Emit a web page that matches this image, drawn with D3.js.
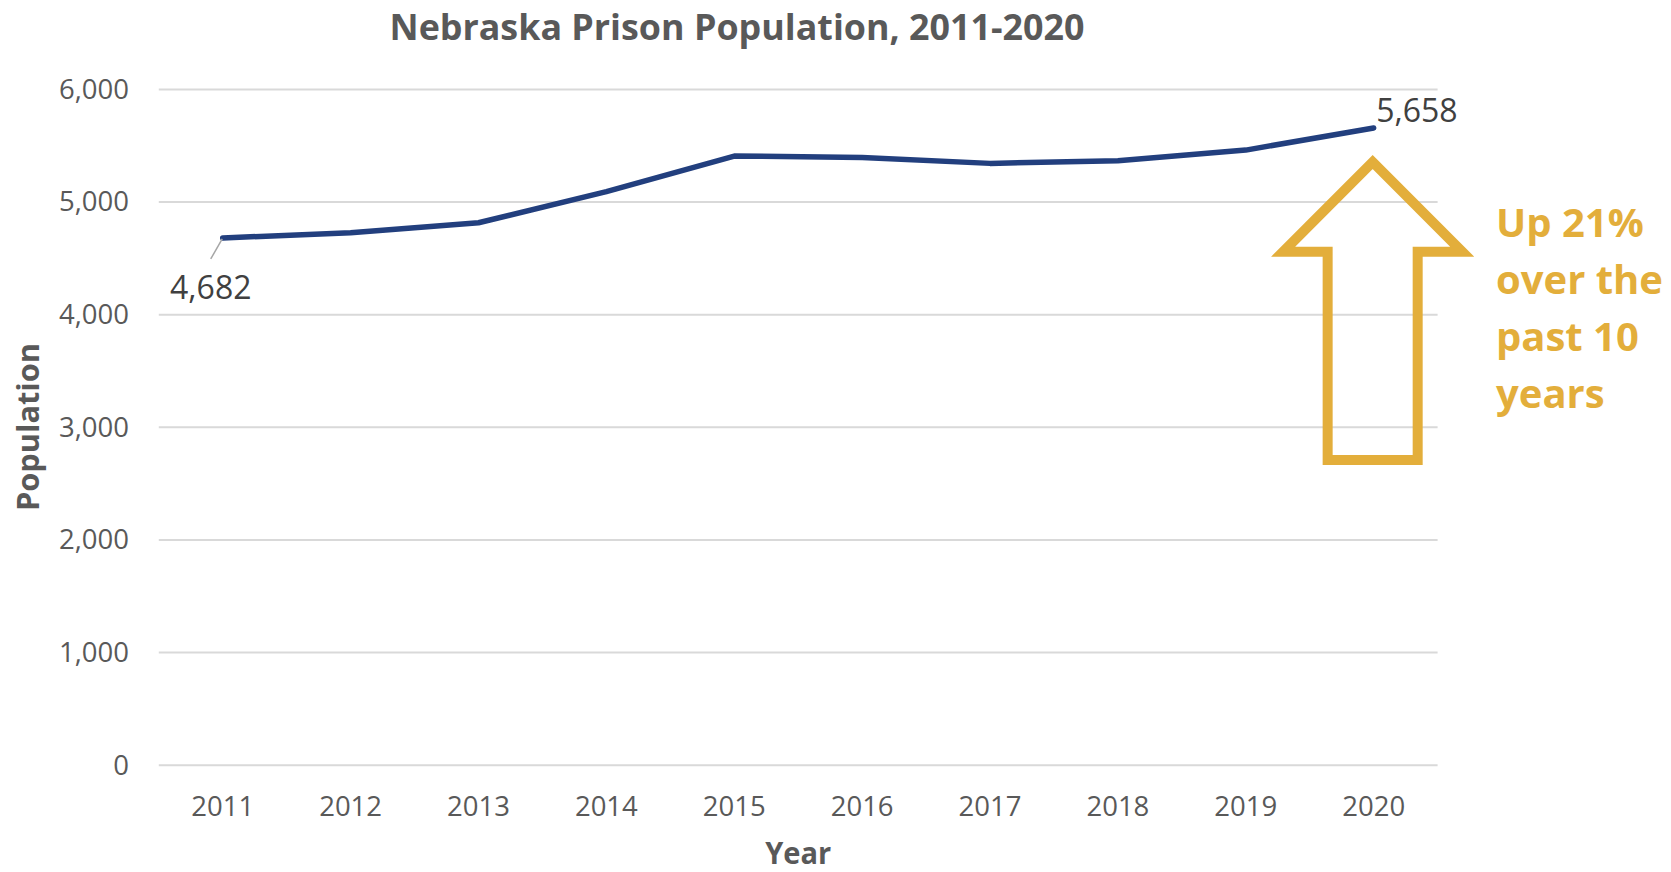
<!DOCTYPE html>
<html>
<head>
<meta charset="utf-8">
<script src="https://cdn.jsdelivr.net/npm/d3@7"></script>
<style>
  html, body { margin: 0; padding: 0; background: #ffffff; }
  svg { display: block; }
  text { font-family: "Open Sans", "Noto Sans", sans-serif; }
</style>
</head>
<body>
<svg id="chart" width="1671" height="872"></svg>
<script>
// Nebraska prison population by year
const years = ["2011", "2012", "2013", "2014", "2015", "2016", "2017", "2018", "2019", "2020"];
const population = [4682, 4728, 4817, 5093, 5409, 5397, 5344, 5368, 5462, 5658];
const yTicks = [0, 1000, 2000, 3000, 4000, 5000, 6000];
const calloutLines = ["Up 21%", "over the", "past 10", "years"];

const W = 1671, H = 872;
const margin = { top: 89.5, right: W - 1437.6, bottom: H - 765.2, left: 158.8 };

const svg = d3.select("#chart");
const gray = "#595959";
const gold = "#E3AE3B";
const navy = "#223F7E";

const x = d3.scaleBand().domain(years).range([margin.left, W - margin.right]);
const y = d3.scaleLinear().domain([0, 6000]).range([H - margin.bottom, margin.top]);
const cx = d => x(d) + x.bandwidth() / 2;

// Horizontal gridlines
svg.append("g")
  .selectAll("line")
  .data(yTicks)
  .join("line")
  .attr("x1", margin.left)
  .attr("x2", W - margin.right)
  .attr("y1", d => y(d))
  .attr("y2", d => y(d))
  .attr("stroke", "#d9d9d9")
  .attr("stroke-width", 2);

// Y axis labels
const yAxis = d3.axisLeft(y).tickValues(yTicks).tickFormat(d3.format(",")).tickSize(0).tickPadding(0);
svg.append("g")
  .attr("transform", `translate(129,0)`)
  .call(yAxis)
  .call(g => g.select(".domain").remove())
  .call(g => g.selectAll("text")
    .attr("fill", gray)
    .style("font-size", "27.5px")
    .style("font-family", "'Open Sans', sans-serif"));

// X axis labels
const xAxis = d3.axisBottom(x).tickSize(0).tickPadding(0);
svg.append("g")
  .attr("transform", `translate(0,${y(0)})`)
  .call(xAxis)
  .call(g => g.select(".domain").remove())
  .call(g => g.selectAll("text")
    .attr("y", 41.5)
    .attr("dy", "0.35em")
    .attr("fill", gray)
    .style("font-size", "27.5px")
    .style("font-family", "'Open Sans', sans-serif"));

// Population line
const line = d3.line()
  .x((d, i) => cx(years[i]))
  .y(d => y(d));

svg.append("path")
  .datum(population)
  .attr("d", line)
  .attr("fill", "none")
  .attr("stroke", navy)
  .attr("stroke-width", 5.5)
  .attr("stroke-linejoin", "round")
  .attr("stroke-linecap", "round");

// First-year value label with leader line
const first = { x: cx(years[0]), y: y(population[0]) };
svg.append("line")
  .attr("x1", first.x - 0.5).attr("y1", first.y + 1)
  .attr("x2", first.x - 12).attr("y2", first.y + 21)
  .attr("stroke", "#a6a6a6")
  .attr("stroke-width", 1.5);
svg.append("text")
  .attr("x", first.x - 12)
  .attr("y", first.y + 50)
  .attr("dy", "0.35em")
  .attr("text-anchor", "middle")
  .attr("fill", "#404040")
  .style("font-size", "32px")
  .text(d3.format(",")(population[0]));

// Last-year value label
const lastI = years.length - 1;
const last = { x: cx(years[lastI]), y: y(population[lastI]) };
svg.append("text")
  .attr("x", last.x + 2.5)
  .attr("y", last.y - 17)
  .attr("dy", "0.35em")
  .attr("fill", "#404040")
  .style("font-size", "32px")
  .text(d3.format(",")(population[lastI]));

// Hollow up-arrow callout beneath the 2020 point
const ax = cx(years[lastI]) - 1;
const bw = x.bandwidth();
const tipY = y(5356), wingY = y(4560), baseY = y(2711);
const wingHalf = bw * 0.70, shaftHalf = bw * 0.352;
const arrowPts = [
  [ax, tipY],
  [ax + wingHalf, wingY],
  [ax + shaftHalf, wingY],
  [ax + shaftHalf, baseY],
  [ax - shaftHalf, baseY],
  [ax - shaftHalf, wingY],
  [ax - wingHalf, wingY]
];
svg.append("path")
  .attr("d", d3.line()(arrowPts) + "Z")
  .attr("fill", "none")
  .attr("stroke", gold)
  .attr("stroke-width", 10)
  .attr("stroke-linejoin", "miter")
  .attr("stroke-miterlimit", 10);

// Callout text
svg.append("g")
  .selectAll("text")
  .data(calloutLines)
  .join("text")
  .attr("x", 1496)
  .attr("y", (d, i) => 236.7 + i * 57)
  .attr("fill", gold)
  .style("font-size", "40px")
  .style("font-weight", "700")
  .text(d => d);

// Title
svg.append("text")
  .attr("x", 737)
  .attr("y", 27.7)
  .attr("dy", "0.35em")
  .attr("text-anchor", "middle")
  .attr("fill", gray)
  .style("font-size", "36px")
  .style("font-weight", "700")
  .attr("textLength", 695)
  .attr("lengthAdjust", "spacingAndGlyphs")
  .text("Nebraska Prison Population, 2011-2020");

// Axis titles
svg.append("text")
  .attr("transform", `translate(27.7,427) rotate(-90)`)
  .attr("dy", "0.35em")
  .attr("text-anchor", "middle")
  .attr("fill", gray)
  .style("font-size", "31px")
  .style("font-weight", "700")
  .attr("textLength", 168)
  .attr("lengthAdjust", "spacingAndGlyphs")
  .text("Population");

svg.append("text")
  .attr("x", (margin.left + W - margin.right) / 2)
  .attr("y", 864)
  .attr("text-anchor", "middle")
  .attr("fill", gray)
  .style("font-size", "30px")
  .style("font-weight", "700")
  .attr("textLength", 66)
  .attr("lengthAdjust", "spacingAndGlyphs")
  .text("Year");
</script>
</body>
</html>
